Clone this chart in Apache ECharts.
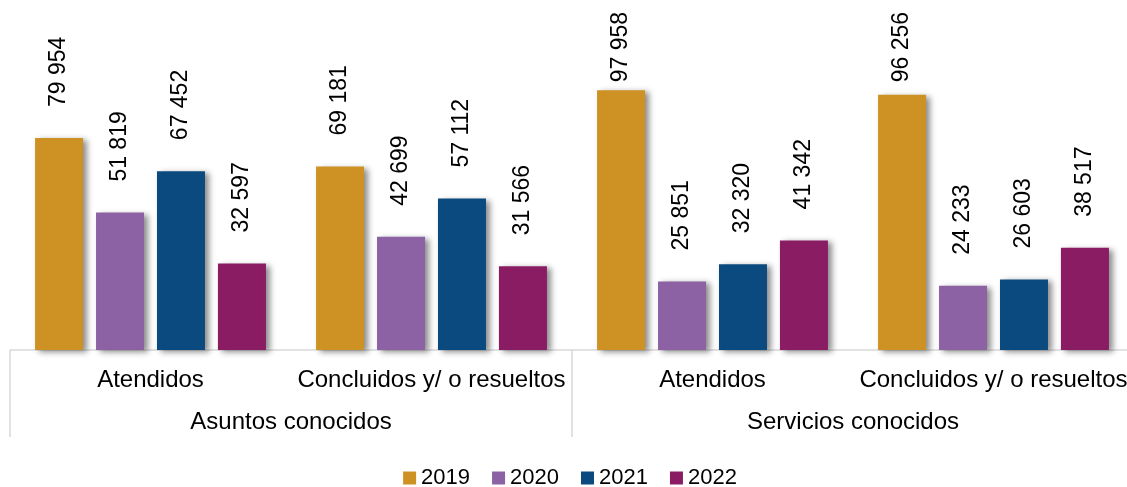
<!DOCTYPE html>
<html><head><meta charset="utf-8">
<script src="https://cdn.jsdelivr.net/npm/echarts@6/dist/echarts.min.js"></script>
<style>html,body{margin:0;padding:0;background:#fff;overflow:hidden;width:1127px;height:487px}#c{width:1140px;height:487px}</style>
</head><body><div id="c"></div>
<script>
const categories = ['Atendidos', 'Concluidos y/ o resueltos', 'Atendidos', 'Concluidos y/ o resueltos'];
const groups = ['Asuntos conocidos', 'Servicios conocidos'];
const seriesNames = ['2019', '2020', '2021', '2022'];
const v2019 = [79954, 69181, 97958, 96256];
const v2020 = [51819, 42699, 25851, 24233];
const v2021 = [67452, 57112, 32320, 26603];
const v2022 = [32597, 31566, 41342, 38517];

const values = [v2019, v2020, v2021, v2022];
const colors = ['#CD9223', '#8C62A4', '#0B4A7F', '#8A1C64'];
const FONT = '"Liberation Sans", Arial, sans-serif';
const fmt = v => String(v).replace(/\B(?=(\d{3})+(?!\d))/g, ' ');

const chart = echarts.init(document.getElementById('c'), null, {renderer: 'canvas'});
chart.setOption({
  animation: false,
  backgroundColor: '#fff',
  textStyle: {fontFamily: FONT},
  grid: {left: 10, width: 1124, top: 0, bottom: 137, containLabel: false},
  legend: {
    data: seriesNames, top: 462, left: 'center', icon: 'rect',
    itemWidth: 13, itemHeight: 13, itemGap: 22,
    textStyle: {fontSize: 22, color: '#000', fontFamily: FONT}
  },
  xAxis: [
    {
      type: 'category', data: categories, position: 'bottom',
      axisLine: {show: true, lineStyle: {color: '#d9d9d9', width: 1.5}},
      axisTick: {show: false},
      axisLabel: {interval: 0, fontSize: 24, color: '#000', margin: 18, fontFamily: FONT}
    },
    {
      type: 'category', data: groups, position: 'bottom', gridIndex: 0,
      axisLine: {show: false},
      axisTick: {show: true, length: 87, interval: 0, lineStyle: {color: '#d9d9d9', width: 1.5}},
      axisLabel: {interval: 0, fontSize: 24, color: '#000', margin: 60, fontFamily: FONT}
    }
  ],
  yAxis: {type: 'value', min: 0, max: 132000, show: false, splitLine: {show: false}},
  series: seriesNames.map((name, i) => ({
    name, type: 'bar', xAxisIndex: 0, data: values[i],
    barWidth: 48, barGap: '27%',
    itemStyle: {color: colors[i], shadowColor: 'rgba(0,0,0,0.45)', shadowBlur: 6, shadowOffsetX: 4, shadowOffsetY: 2},
    label: {
      show: true, position: 'top', rotate: 90, align: 'left', verticalAlign: 'middle',
      distance: 31, fontSize: 23, color: '#000', fontFamily: FONT,
      formatter: p => fmt(p.value)
    },
    labelLayout: p => (p.labelRect.y < 12 ? {y: 12 + p.labelRect.height} : {})
  }))
});
</script></body></html>
